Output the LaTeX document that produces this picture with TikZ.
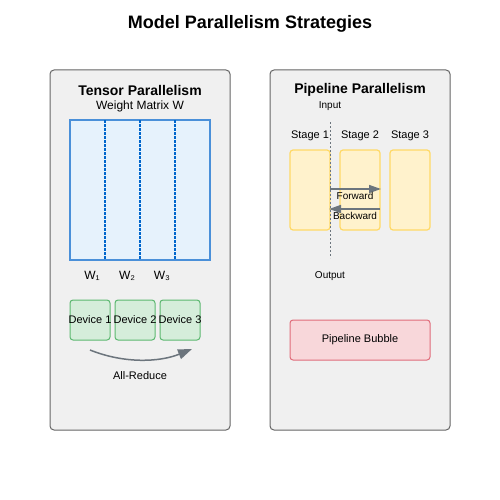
\documentclass[tikz,border=0pt]{standalone}
\usepackage{fontspec}
\setmainfont{Liberation Sans}
\usepackage{tikz}
\usetikzlibrary{arrows.meta}
\usetikzlibrary{positioning}

\definecolor{panelfill}{HTML}{F0F0F0}
\definecolor{panelline}{HTML}{666666}
\definecolor{matfill}{HTML}{E6F2FC}
\definecolor{matline}{HTML}{4A90D9}
\definecolor{splitline}{HTML}{0066CC}
\definecolor{devfill}{HTML}{D5EDDA}
\definecolor{devline}{HTML}{5CB870}
\definecolor{stagefill}{HTML}{FFF2CC}
\definecolor{stageline}{HTML}{FFD966}
\definecolor{bubfill}{HTML}{F8D7DA}
\definecolor{bubline}{HTML}{E06C7A}
\definecolor{arrowgray}{HTML}{6C757D}

\tikzset{
	panel/.style={draw=panelline, fill=panelfill, rounded corners=4pt, line width=1pt, minimum width=180pt, minimum height=360pt, inner sep=0pt},
	device/.style={draw=devline, fill=devfill, rounded corners=3pt, line width=1pt, minimum width=40pt, minimum height=40pt, inner sep=0pt},
	stagebox/.style={draw=stageline, fill=stagefill, rounded corners=3pt, line width=1.2pt, minimum width=40pt, minimum height=80pt, inner sep=0pt},
	lbl/.style={inner sep=0pt, font=\fontsize{11}{13}\selectfont},
	small/.style={inner sep=0pt, font=\fontsize{10}{12}\selectfont},
	heading/.style={inner sep=0pt, font=\fontsize{14}{16}\bfseries}
}

\begin{document}
\begin{tikzpicture}[x=1pt,y=-1pt]
\useasboundingbox[fill=white] (0,0) rectangle (500,500);

\node[inner sep=0pt, font=\fontsize{18}{20}\bfseries] (title) at (250,24) {Model Parallelism Strategies};

% tensor parallelism
\node[panel] (tp) at (140,250) {};
\node[heading] (tphead) at (140,90) {Tensor Parallelism};
\node[inner sep=0pt, font=\fontsize{12}{14}\selectfont] (wm) at (140,106) {Weight Matrix W};
\node[draw=matline, fill=matfill, line width=1.2pt, minimum width=140pt, minimum height=140pt, inner sep=0pt] (mat) at (140,190) {};

\foreach \x in {105,140,175}
{
	\draw[splitline, line width=1.2pt, dash pattern=on 2.5pt off 1.5pt] (\x,120) -- (\x,260);
}

\node[inner sep=0pt, font=\fontsize{12}{14}\selectfont] (w1) at (92,276) {W₁};
\node[inner sep=0pt, font=\fontsize{12}{14}\selectfont] (w2) at (127,276) {W₂};
\node[inner sep=0pt, font=\fontsize{12}{14}\selectfont] (w3) at (162,276) {W₃};

\foreach \i/\x in {1/90,2/135,3/180}
{
	\node[device] (dev\i) at (\x,320) {};
	\node[lbl] (devl\i) at (dev\i) {Device \i};
}

\coordinate (arA) at (90,350);
\coordinate (arB) at (192,349);
\draw[arrowgray, line width=1.5pt, -{Triangle[length=14pt,width=10pt]}] (arA) .. controls (125,364) and (160,362) .. (arB);
\node[lbl] (allred) at (140,376) {All-Reduce};

% pipeline parallelism
\node[panel] (pp) at (360,250) {};
\node[heading] (pphead) at (360,90) {Pipeline Parallelism};
\node[small] (input) at (330,106) {Input};

\foreach \i/\x in {1/310,2/360,3/410}
{
	\node[stagebox] (st\i) at (\x,190) {};
	\node[lbl] (stl\i) at (\x,136) {Stage \i};
}

\node[small] (output) at (330,276) {Output};
\draw[arrowgray, line width=1pt, dash pattern=on 2pt off 2pt] (330,122) -- (330,258);

\coordinate (fwA) at (330,189);
\coordinate (fwB) at (381,189);
\coordinate (bwA) at (380,209);
\coordinate (bwB) at (329,209);
\draw[arrowgray, line width=1.5pt, -{Triangle[length=12pt,width=8pt]}] (fwA) -- (fwB);
\draw[arrowgray, line width=1.5pt, -{Triangle[length=12pt,width=8pt]}] (bwA) -- (bwB);
\node[small] (fw) at (355,196) {Forward};
\node[small] (bw) at (355,216) {Backward};

\node[draw=bubline, fill=bubfill, rounded corners=3pt, line width=1pt, minimum width=140pt, minimum height=40pt, inner sep=0pt, font=\fontsize{11}{13}\selectfont] (bubble) at (360,340) {Pipeline Bubble};

\end{tikzpicture}
\end{document}
